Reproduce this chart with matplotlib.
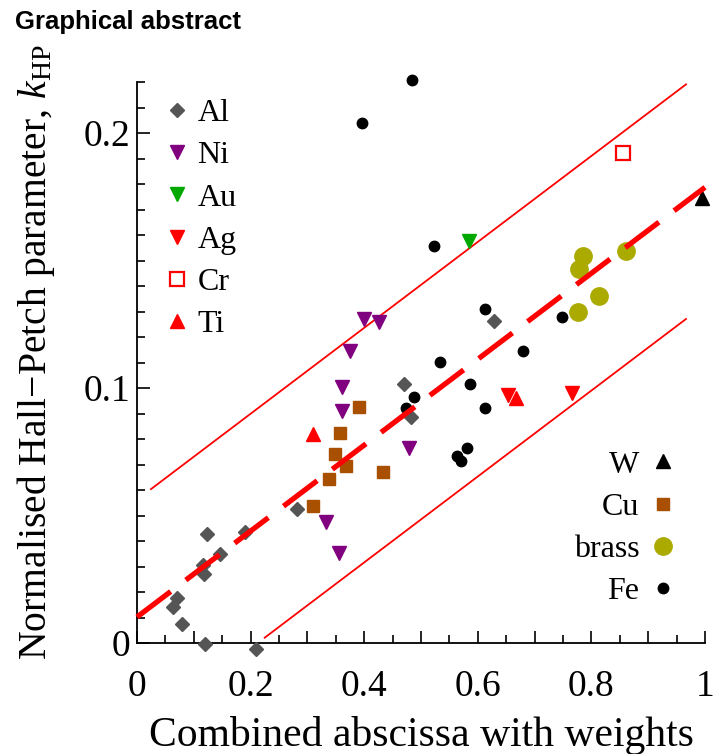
import matplotlib
matplotlib.use("Agg")
import matplotlib.pyplot as plt
from matplotlib.ticker import MultipleLocator, FixedLocator, FuncFormatter

plt.rcParams['font.family'] = ['Liberation Serif', 'DejaVu Serif']
plt.rcParams['mathtext.fontset'] = 'custom'
plt.rcParams['mathtext.rm'] = 'Liberation Serif'
plt.rcParams['mathtext.it'] = 'Liberation Serif:italic'

# ---- data ----
al_x = [0.470, 0.482, 0.629, 0.281, 0.190, 0.124, 0.146, 0.117, 0.1185, 0.070, 0.064, 0.080, 0.120, 0.209]
al_y = [0.1014, 0.0885, 0.1264, 0.0524, 0.0437, 0.0427, 0.0348, 0.0306, 0.0271, 0.0175, 0.0142, 0.0075, -0.0004, -0.0025]

ni_x = [0.400, 0.4266, 0.375, 0.3615, 0.3615, 0.479, 0.3327, 0.356]
ni_y = [0.1269, 0.1260, 0.1146, 0.1005, 0.0911, 0.0763, 0.0476, 0.0352]

au_x = [0.585]
au_y = [0.1576]

ag_x = [0.6526, 0.765]
ag_y = [0.0973, 0.0980]

cr_x = [0.855]
cr_y = [0.192]

ti_x = [0.6667, 0.309]
ti_y = [0.0960, 0.0818]

w_x = [0.995]
w_y = [0.1744]

cu_x = [0.391, 0.357, 0.348, 0.368, 0.338, 0.4325, 0.310]
cu_y = [0.0927, 0.0822, 0.0740, 0.0695, 0.0645, 0.0672, 0.0539]

brass_x = [0.785, 0.779, 0.861, 0.813, 0.777]
brass_y = [0.1519, 0.1465, 0.1537, 0.1361, 0.1297]

fe_x = [0.485, 0.397, 0.5235, 0.613, 0.749, 0.680, 0.5335, 0.586, 0.488, 0.4736, 0.613, 0.5815, 0.563, 0.570]
fe_y = [0.2208, 0.2038, 0.1558, 0.1309, 0.1277, 0.1145, 0.1101, 0.1014, 0.0966, 0.0923, 0.0920, 0.0763, 0.0735, 0.0715]

# fit line and band
fit_intercept = 0.0102
fit_slope = 0.1685
band = 0.046
fit_range = [0.0, 1.0]
upper_range = [0.0246, 0.9666]
lower_range = [0.2248, 0.9666]

y_ticks = [0, 0.1, 0.2]

# ---- figure ----
fig = plt.figure(figsize=(7.13, 7.54), dpi=100)
ax = fig.add_axes([137/713, 1-643/754, 568/713, 561/754])

ax.plot(al_x, al_y, 'D', color='#555555', ms=7.0, ls='none', clip_on=False, label='Al', zorder=3)
ax.plot(ni_x, ni_y, 'v', color='#800080', ms=10.5, ls='none', clip_on=False, label='Ni', zorder=3)
ax.plot(au_x, au_y, 'v', color='#00a800', ms=10.5, ls='none', clip_on=False, label='Au', zorder=3)
ax.plot(ag_x, ag_y, 'v', color='#ff0000', ms=10.5, ls='none', clip_on=False, label='Ag', zorder=3)
ax.plot(cr_x, cr_y, 's', mfc='none', mec='#ff0000', mew=1.6, ms=10.5, ls='none', clip_on=False, label='Cr', zorder=3)
ax.plot(ti_x, ti_y, '^', color='#ff0000', ms=10.5, ls='none', clip_on=False, label='Ti', zorder=3)
ax.plot(w_x, w_y, '^', color='black', ms=10.5, ls='none', clip_on=False, label='W', zorder=3)
ax.plot(cu_x, cu_y, 's', color='#a85000', ms=9.0, ls='none', clip_on=False, label='Cu', zorder=3)
ax.plot(brass_x, brass_y, 'o', color='#aaaa00', ms=12.5, ls='none', clip_on=False, label='brass', zorder=3)
ax.plot(fe_x, fe_y, 'o', color='black', ms=7.5, ls='none', clip_on=False, label='Fe', zorder=3)

def line(xr, off):
    return [fit_intercept + off + fit_slope * v for v in xr]

ax.plot(fit_range, line(fit_range, 0.0), color='#ff0000', lw=3.8, dashes=(8.0, 3.6),
        clip_on=False, solid_capstyle='butt', dash_capstyle='butt', zorder=4)
ax.plot(upper_range, line(upper_range, band), color='#ff0000', lw=1.3, clip_on=False, zorder=2)
ax.plot(lower_range, line(lower_range, -band), color='#ff0000', lw=1.3, clip_on=False, zorder=2)

ax.set_xlim(0, 1)
ax.set_ylim(0, 0.22)
for s in ['top', 'right']:
    ax.spines[s].set_visible(False)
ax.spines['left'].set_linewidth(1.3)
ax.spines['bottom'].set_linewidth(1.3)

ax.xaxis.set_major_locator(MultipleLocator(0.1))
ax.xaxis.set_minor_locator(MultipleLocator(0.05))
def xfmt(v, pos):
    r = round(v * 10)
    if r % 2:
        return ''
    return '%g' % (r / 10)
ax.xaxis.set_major_formatter(FuncFormatter(xfmt))
ax.yaxis.set_major_locator(FixedLocator(y_ticks))
ax.yaxis.set_minor_locator(MultipleLocator(0.01))
ax.yaxis.set_major_formatter(FuncFormatter(lambda v, p: '%g' % round(v, 2)))

ax.tick_params(which='both', direction='in', width=1.2, labelsize=27)
ax.tick_params(which='major', length=9)
ax.tick_params(which='minor', length=5.5)
ax.tick_params(axis='x', pad=19)
ax.tick_params(axis='y', pad=5)

ax.set_xlabel('Combined abscissa with weights', fontsize=30, labelpad=9)
ax.set_ylabel('Normalised Hall\u2212Petch parameter, $k_{\\mathrm{HP}}$', fontsize=28.5)
ax.yaxis.set_label_coords(-0.141, 0.518)

h = {l.get_label(): l for l in ax.get_lines() if not l.get_label().startswith('_')}
leg1 = ax.legend([h[k] for k in ['Al', 'Ni', 'Au', 'Ag', 'Cr', 'Ti']],
                 ['Al', 'Ni', 'Au', 'Ag', 'Cr', 'Ti'],
                 loc='upper left', bbox_to_anchor=(0.0475, 0.9697), frameon=False,
                 fontsize=23, handlelength=0.8, handletextpad=0.25, labelspacing=0.40,
                 borderpad=0, borderaxespad=0, numpoints=1)
ax.add_artist(leg1)
ax.legend([h[k] for k in ['W', 'Cu', 'brass', 'Fe']], ['W', 'Cu', 'brass', 'Fe'],
          loc='lower right', bbox_to_anchor=(0.949, 0.066), frameon=False,
          fontsize=23, handlelength=0.8, handletextpad=0.35, labelspacing=0.40,
          borderpad=0, borderaxespad=0, numpoints=1, markerfirst=False)

fig.text(15/713, 1-22/754, 'Graphical abstract', family=['Liberation Sans', 'DejaVu Sans'],
         fontweight='bold', fontsize=18.5, va='center', ha='left')

fig.savefig('out.png', dpi=100)
